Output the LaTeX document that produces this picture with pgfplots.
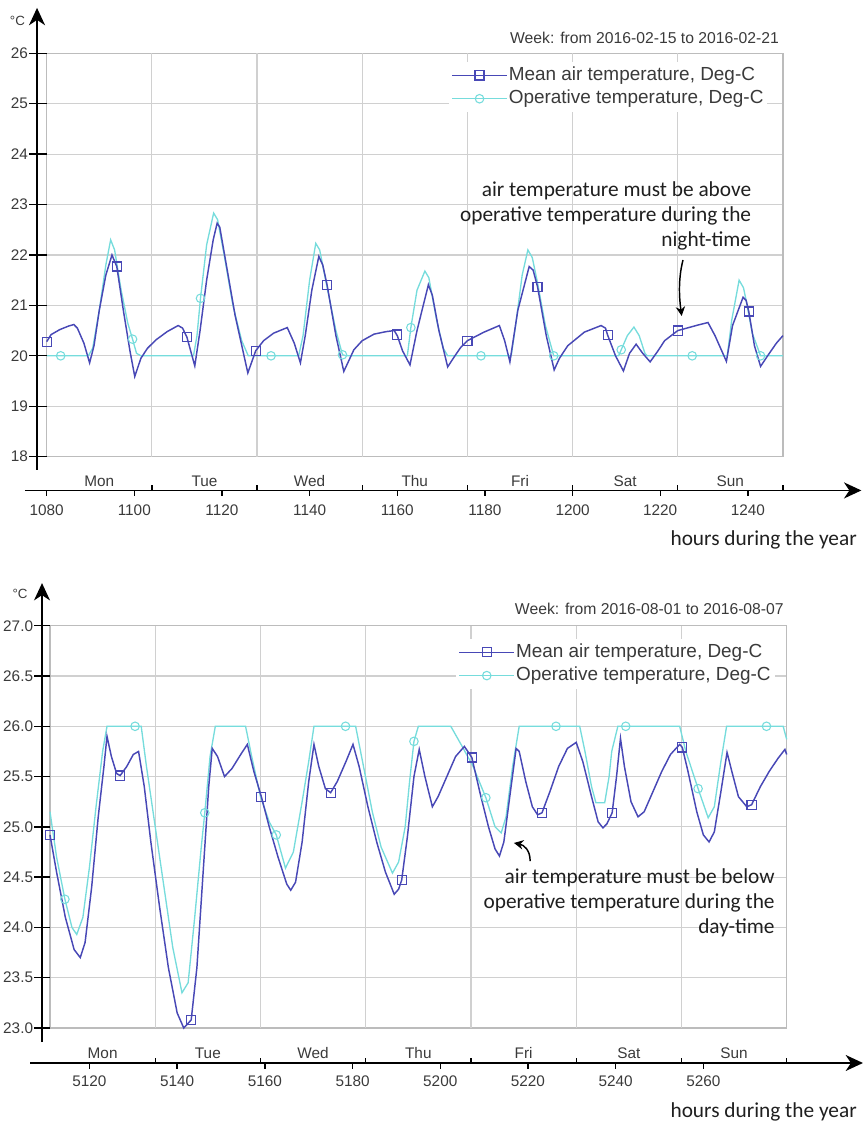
\documentclass[border=0pt]{standalone}
\usepackage{pgfplots}
\pgfplotsset{compat=1.18}
\usepackage{fontspec}
\setmainfont{Liberation Sans}
\newfontfamily\carlito{Carlito}
\usetikzlibrary{arrows.meta}
\definecolor{meanc}{RGB}{72,72,182}
\definecolor{opc}{RGB}{118,220,220}
\definecolor{gridc}{RGB}{208,208,208}
\definecolor{framec}{RGB}{188,188,188}
\definecolor{txtc}{RGB}{58,58,58}
\newcommand\tickfont{\fontsize{11.5}{13}\selectfont}
\newcommand\notefont{\carlito\fontsize{16}{18.75}\selectfont}
\tikzset{
  axarrow/.style={black, line width=1.3pt, -{Stealth[length=13pt,width=12pt,inset=4pt]}},
  daylab/.style={font=\tickfont, text=txtc, inner sep=0pt},
}
\pgfplotsset{
  panel/.style={
    scale only axis,
    axis line style={framec, line width=1pt},
    grid style={gridc, line width=0.9pt},
    ymajorgrids, xmajorgrids=false,
    major tick length=0pt,
    tick label style={font=\tickfont, text=txtc},
    /pgf/number format/assume math mode=true,
    /pgf/number format/1000 sep={},
    xticklabel style={anchor=center, inner sep=0pt, yshift=-40pt},
    yticklabel style={anchor=east, inner sep=0pt},
    clip=false,
    legend cell align=left,
    legend style={draw=none, fill=white, inner sep=2pt, row sep=2pt,
      font=\fontsize{14.2}{16}\selectfont, text=txtc,
      nodes={inner sep=1pt, text height=10.5pt, text depth=3pt}},
    legend image code/.code={\draw[mark repeat=2,mark phase=2] plot coordinates {(0pt,0pt) (20.5pt,0pt) (41pt,0pt)};},
  },
  meanline/.style={meanc, line width=1.1pt, no marks, forget plot},
  opline/.style={opc, line width=1pt, no marks, forget plot},
  meanmk/.style={meanc, only marks, mark=square, mark size=3.4pt, mark options={line width=0.9pt}, forget plot},
  opmk/.style={opc, only marks, mark=o, mark size=3.2pt, mark options={line width=0.8pt}, forget plot},
}
\begin{document}
\begin{tikzpicture}
\useasboundingbox (0,0) rectangle (649.5pt,843pt);

%================ TOP PANEL =================
\begin{axis}[panel,
  at={(35.0pt,500.5pt)}, anchor=south west,
  width=552.2pt, height=302.55pt,
  xmin=1080, xmax=1248, ymin=18, ymax=26,
  xtick={1080,1100,1120,1140,1160,1180,1200,1220,1240},
  ytick={18,19,20,21,22,23,24,25,26},
  yticklabel style={xshift=-13.8pt},
  legend style={at={(0.546,0.978)}, anchor=north west},
]
\pgfplotsinvokeforeach{1104,1128,1152,1176,1200,1224}{
  \draw[gridc, line width=0.9pt] (axis cs:#1,18) -- (axis cs:#1,26);}
\addplot[opline] coordinates {
(1080,20.0) (1089.5,20.0) (1090.5,20.15) (1092,20.9) (1093.5,21.8) (1094.6,22.3)
(1095.5,22.1) (1097,21.3) (1098.5,20.65) (1099.6,20.33) (1100.5,20.05) (1101.5,20.0)
(1113.5,20.0) (1114.3,20.4) (1115.1,21.14) (1116.5,22.2) (1118.1,22.83) (1119,22.7)
(1120.5,22.0) (1122.5,21.0) (1124.5,20.3) (1126,20.0)
(1137.5,20.0) (1138.5,20.4) (1140,21.5) (1141.4,22.23) (1142.3,22.1) (1144,21.35)
(1146,20.5) (1147.5,20.02) (1148.5,20.0)
(1162.3,20.0) (1163.1,20.56) (1164.5,21.3) (1166.3,21.68) (1167.2,21.55) (1169,20.7)
(1170.5,20.15) (1171.5,20.0)
(1186,20.0) (1187,20.6) (1188.5,21.6) (1189.8,22.1) (1190.8,21.95) (1192,21.45)
(1193.8,20.6) (1195.7,20.0)
(1210.5,20.0) (1211.1,20.12) (1212.5,20.4) (1214,20.57) (1215.2,20.4) (1216.5,20.05) (1217,20.0)
(1235.3,20.0) (1236.3,20.7) (1238,21.5) (1239,21.35) (1239.6,21.1) (1241,20.45) (1242.9,20.0)
(1248,20.0)
};
\addplot[meanline] coordinates {
(1080,20.28) (1081,20.42) (1083,20.52) (1085,20.59) (1086.2,20.62) (1087,20.55)
(1088.5,20.25) (1089.8,19.86) (1090.8,20.2) (1092,20.9) (1093.5,21.6) (1094.9,22.0)
(1096,21.77) (1097.5,20.9) (1099,20.1) (1100.1,19.59) (1101.5,19.95) (1103,20.15)
(1105,20.32) (1107.5,20.48) (1110,20.6) (1111,20.55) (1112,20.37) (1113.8,19.8)
(1115,20.5) (1116.5,21.5) (1118,22.3) (1118.9,22.63) (1119.5,22.55) (1121,21.8)
(1123,20.8) (1125.9,19.66) (1127.7,20.1) (1129.5,20.3) (1131.8,20.45) (1134.9,20.56)
(1136.5,20.25) (1137.9,19.86) (1139,20.4) (1140.5,21.3) (1142.1,21.97) (1143,21.8)
(1144,21.4) (1146,20.4) (1147.8,19.69) (1150.1,20.12) (1152,20.3) (1154.7,20.43)
(1157.5,20.48) (1159.3,20.5) (1160,20.4) (1161.2,20.1) (1162.9,19.82) (1164.5,20.5)
(1167.1,21.41) (1168,21.2) (1169.5,20.5) (1171.5,19.78) (1173,19.98) (1174.5,20.17)
(1176,20.3) (1179.8,20.47) (1183.3,20.6) (1184.5,20.3) (1185.7,19.88) (1187.5,20.9)
(1190.1,21.77) (1191,21.7) (1192,21.37) (1194,20.4) (1195.8,19.72) (1197,19.95)
(1198.9,20.2) (1202.7,20.47) (1206.5,20.6) (1207.5,20.55) (1208,20.41) (1209.8,20.0)
(1211.6,19.7) (1213,20.05) (1214.5,20.23) (1216,20.05) (1217.7,19.88) (1219.5,20.1)
(1221,20.3) (1224,20.5) (1228.6,20.61) (1230.9,20.66) (1232.5,20.4) (1235.1,19.89)
(1236.5,20.6) (1238.9,21.16) (1239.6,21.1) (1240.2,20.88) (1241.5,20.2) (1242.9,19.79)
(1244.5,20.0) (1246.5,20.25) (1248,20.4)
};
\addplot[opmk] coordinates {
(1083.2,20.0) (1099.6,20.33) (1115.1,21.14) (1131.2,20.0) (1147.5,20.02) (1163.1,20.56)
(1179.1,20.0) (1195.7,20.0) (1211.1,20.12) (1227.3,20.0) (1242.9,20.0)
};
\addplot[meanmk] coordinates {
(1080,20.28) (1096,21.77) (1112,20.37) (1127.7,20.1) (1144,21.4) (1159.9,20.42)
(1176,20.3) (1192,21.37) (1208,20.41) (1224,20.5) (1240.2,20.88)
};
\addlegendimage{meanc, line width=0.9pt, mark=square, mark size=3.4pt, mark options={line width=0.9pt}}
\addlegendentry{Mean air temperature, Deg-C}
\addlegendimage{opc, line width=0.9pt, mark=o, mark size=3.2pt, mark options={line width=0.8pt}}
\addlegendentry{Operative temperature, Deg-C}
% black axes
\draw[axarrow] (axis cs:1077.8,17.74) -- (axis cs:1077.8,26.9);
\draw[axarrow] (axis cs:1075.05,17.33) -- (axis cs:1265.9,17.33);
\pgfplotsinvokeforeach{18,19,20,21,22,23,24,25,26}{
  \draw[black, line width=1pt] (axis cs:1080,#1) -- ++(-13pt,0pt);}
\pgfplotsinvokeforeach{1080,1100,1120,1140,1160,1180,1200,1220,1240}{
  \draw[black, line width=1pt] (axis cs:#1,17.33) -- ++(0pt,-4.5pt);}
\pgfplotsinvokeforeach{1104,1128,1152,1176,1200,1224,1248}{
  \draw[black, line width=1pt] (axis cs:#1,17.33) -- ++(0pt,3.75pt);}
\node[daylab] at (axis cs:1092,17.52) {Mon};
\node[daylab] at (axis cs:1116,17.52) {Tue};
\node[daylab] at (axis cs:1140,17.52) {Wed};
\node[daylab] at (axis cs:1164,17.52) {Thu};
\node[daylab] at (axis cs:1188,17.52) {Fri};
\node[daylab] at (axis cs:1212,17.52) {Sat};
\node[daylab] at (axis cs:1236,17.52) {Sun};
\node[font=\fontsize{10}{12}\selectfont, text=txtc, inner sep=0pt] at (axis cs:1073.34,26.64) {°C};
\node[anchor=east, font=\fontsize{11.8}{13}\selectfont, text=txtc, inner sep=0pt] at (axis cs:1247.15,26.31) {Week: from 2016-02-15 to 2016-02-21};
\node[anchor=north east, align=right, inner sep=0pt, font=\notefont, text=black!88] at (axis cs:1240.8,23.45)
  {air temperature must be above\\operative temperature during the\\night-time};
\draw[black, line width=1.1pt, -{Stealth[length=7pt,width=7pt]}] (axis cs:1225.2,21.90) .. controls (axis cs:1224.0,21.50) and (axis cs:1224.4,21.11) .. (axis cs:1224.9,20.79);
\end{axis}

%================ BOTTOM PANEL =================
\begin{axis}[panel,
  at={(37.5pt,72.0pt)}, anchor=south west,
  width=552.5pt, height=301.7pt,
  xmin=5111, xmax=5279, ymin=23, ymax=27,
  xtick={5120,5140,5160,5180,5200,5220,5240,5260},
  ytick={23,23.5,24,24.5,25,25.5,26,26.5,27},
  yticklabel style={xshift=-12.5pt, /pgf/number format/.cd, fixed, fixed zerofill, precision=1},
  legend style={at={(0.551,0.967)}, anchor=north west},
]
\pgfplotsinvokeforeach{5135,5159,5183,5207,5231,5255}{
  \draw[gridc, line width=0.9pt] (axis cs:#1,23) -- (axis cs:#1,27);}
\addplot[opline] coordinates {
(5111,25.15) (5112.5,24.7) (5114.4,24.28) (5116,24.0) (5117.1,23.93) (5118.5,24.1)
(5120,24.6) (5121.5,25.2) (5123,25.75) (5124,26.0) (5131.8,26.0) (5133,25.6)
(5135,25.0) (5137,24.4) (5139,23.8) (5141.1,23.35) (5142.5,23.45) (5144,24.1)
(5145.5,24.8) (5146.3,25.14) (5147.5,25.7) (5148.7,26.0) (5155.6,26.0) (5157,25.7)
(5159,25.3) (5161,25.05) (5162.6,24.92) (5164.7,24.59) (5166.5,24.75) (5168.5,25.25)
(5170,25.65) (5171.2,26.0) (5180.7,26.0) (5182.5,25.6) (5184.5,25.15) (5186.5,24.8)
(5189.1,24.54) (5190.5,24.65) (5192,25.0) (5193,25.45) (5194.0,25.85) (5195,26.0)
(5202.4,26.0) (5205,25.8) (5207.5,25.6) (5210.4,25.29) (5212.5,25.0) (5213.9,24.94)
(5215,25.1) (5216.5,25.6) (5218,26.0) (5231.8,26.0) (5233,25.75) (5234.5,25.4)
(5235.5,25.24) (5237.5,25.24) (5238.5,25.5) (5239.1,25.75) (5240.5,26.0)
(5254.6,26.0) (5256,25.75) (5258.8,25.38) (5261.1,25.09) (5262.5,25.2) (5264,25.65)
(5265.3,26.0) (5278.2,26.0) (5279,25.87)
};
\addplot[meanline] coordinates {
(5111,24.92) (5112.5,24.55) (5114.5,24.1) (5116.5,23.78) (5117.9,23.70) (5119,23.85)
(5120.5,24.4) (5122,25.1) (5123.3,25.6) (5124,25.9) (5125,25.7) (5126.2,25.53)
(5127,25.51) (5128.5,25.6) (5130,25.72) (5131.2,25.75) (5132.5,25.4) (5134,24.85)
(5136,24.2) (5138,23.6) (5140,23.15) (5141.5,23.0) (5143.2,23.08) (5144.5,23.6)
(5146,24.6) (5147.2,25.4) (5148,25.78) (5149.2,25.7) (5150.8,25.5) (5152.5,25.58)
(5154.5,25.72) (5156,25.82) (5157.5,25.55) (5159.2,25.3) (5161,25.0) (5163,24.7)
(5165,24.43) (5165.9,24.37) (5167,24.45) (5168.5,24.85) (5170,25.45) (5171.2,25.82)
(5172.3,25.6) (5173.8,25.38) (5175,25.34) (5176.5,25.45) (5178.5,25.65) (5180.1,25.82)
(5181.5,25.6) (5183.5,25.2) (5185.5,24.85) (5187.5,24.55) (5189.5,24.33) (5190.5,24.38)
(5191.2,24.47) (5192.5,24.9) (5194,25.5) (5195.2,25.77) (5196.5,25.5) (5198.2,25.2)
(5199.5,25.3) (5201.5,25.5) (5203.5,25.7) (5205.5,25.8) (5207.2,25.69) (5209,25.35)
(5211,25.0) (5212.5,24.78) (5213.5,24.71) (5214.5,24.85) (5216,25.35) (5217.3,25.78)
(5218,25.75) (5219.5,25.45) (5221,25.2) (5222.2,25.12) (5223.2,25.14) (5225,25.35)
(5227,25.6) (5229,25.78) (5231,25.84) (5232.5,25.65) (5234.5,25.3) (5236,25.05)
(5237.1,24.99) (5238,25.03) (5239.2,25.14) (5240.2,25.5) (5241.1,25.88) (5242,25.6)
(5243.5,25.25) (5245.1,25.1) (5246.5,25.15) (5248.5,25.35) (5250.5,25.55) (5252.5,25.72)
(5254.6,25.82) (5255.2,25.79) (5256.5,25.55) (5258.5,25.15) (5260,24.92) (5261.3,24.85)
(5262.5,24.95) (5264,25.35) (5265.4,25.74) (5266.5,25.55) (5268,25.3) (5269.9,25.2)
(5271,25.22) (5273,25.4) (5275,25.55) (5277,25.68) (5278.6,25.77) (5279,25.72)
};
\addplot[opmk] coordinates {
(5114.4,24.28) (5130.4,26.0) (5146.3,25.14) (5162.6,24.92) (5178.4,26.0) (5194.0,25.85)
(5210.4,25.29) (5226.4,26.0) (5242.3,26.0) (5258.8,25.38) (5274.4,26.0)
};
\addplot[meanmk] coordinates {
(5111,24.92) (5127,25.51) (5143.2,23.08) (5159.2,25.3) (5175,25.34) (5191.2,24.47)
(5207.2,25.69) (5223.2,25.14) (5239.2,25.14) (5255.2,25.79) (5271,25.22)
};
\addlegendimage{meanc, line width=0.9pt, mark=square, mark size=3.4pt, mark options={line width=0.9pt}}
\addlegendentry{Mean air temperature, Deg-C}
\addlegendimage{opc, line width=0.9pt, mark=o, mark size=3.2pt, mark options={line width=0.8pt}}
\addlegendentry{Operative temperature, Deg-C}
% black axes
\draw[axarrow] (axis cs:5109.18,22.86) -- (axis cs:5109.18,27.424);
\draw[axarrow] (axis cs:5106.44,22.652) -- (axis cs:5296.4,22.652);
\pgfplotsinvokeforeach{23,23.5,24,24.5,25,25.5,26,26.5,27}{
  \draw[black, line width=1pt] (axis cs:5111,#1) -- ++(-12pt,0pt);}
\pgfplotsinvokeforeach{5120,5140,5160,5180,5200,5220,5240,5260}{
  \draw[black, line width=1pt] (axis cs:#1,22.652) -- ++(0pt,-4.5pt);}
\pgfplotsinvokeforeach{5135,5159,5183,5207,5231,5255,5279}{
  \draw[black, line width=1pt] (axis cs:#1,22.652) -- ++(0pt,3.75pt);}
\node[daylab] at (axis cs:5123,22.75) {Mon};
\node[daylab] at (axis cs:5147,22.75) {Tue};
\node[daylab] at (axis cs:5171,22.75) {Wed};
\node[daylab] at (axis cs:5195,22.75) {Thu};
\node[daylab] at (axis cs:5219,22.75) {Fri};
\node[daylab] at (axis cs:5243,22.75) {Sat};
\node[daylab] at (axis cs:5267,22.75) {Sun};
\node[font=\fontsize{10}{12}\selectfont, text=txtc, inner sep=0pt] at (axis cs:5104.16,27.32) {°C};
\node[anchor=east, font=\fontsize{11.8}{13}\selectfont, text=txtc, inner sep=0pt] at (axis cs:5278.4,27.166) {Week: from 2016-08-01 to 2016-08-07};
\node[anchor=north east, align=right, inner sep=0pt, font=\notefont, text=black!88] at (axis cs:5276.3,24.59)
  {air temperature must be below\\operative temperature during the\\day-time};
\draw[black, line width=1.1pt, -{Stealth[length=7pt,width=7pt]}] (axis cs:5220.5,24.66) .. controls (axis cs:5220.5,24.77) and (axis cs:5219.1,24.82) .. (axis cs:5216.8,24.84);
\end{axis}

\node[anchor=base east, font=\notefont, text=black!88, inner sep=0pt] at (642.75pt,433.5pt) {hours during the year};
\node[anchor=base east, font=\notefont, text=black!88, inner sep=0pt] at (642.75pt,5.25pt) {hours during the year};
\end{tikzpicture}
\end{document}
